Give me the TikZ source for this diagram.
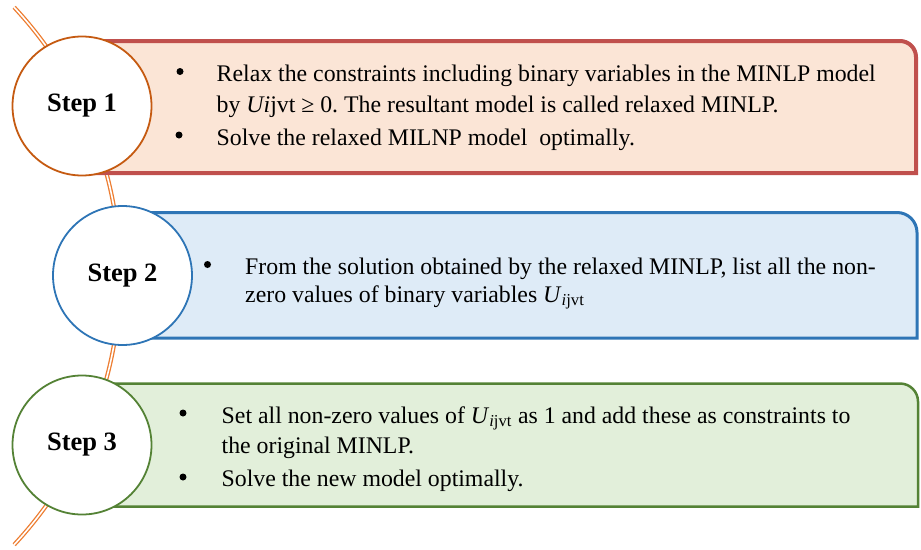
\documentclass[tikz,border=0pt]{standalone}
\usepackage{fontspec}
\setmainfont{Liberation Serif}
\usepackage{xcolor}
\usepackage{tikz}
\usetikzlibrary{positioning,calc}
\frenchspacing

\definecolor{arcorange}{HTML}{ED7D31}
\definecolor{redline}{HTML}{C0504D}
\definecolor{redfill}{HTML}{FBE5D6}
\definecolor{orangeline}{HTML}{C55A11}
\definecolor{blueline}{HTML}{2E75B6}
\definecolor{bluefill}{HTML}{DEEBF7}
\definecolor{greenline}{HTML}{548235}
\definecolor{greenfill}{HTML}{E2EFDA}

\begin{document}
\begin{tikzpicture}[x=1pt, y=-1pt,
    every node/.style={font=\fontsize{23.8}{28}\selectfont, inner sep=0pt},
    stepcircle/.style={circle, fill=white, line width=1.8pt, minimum size=139pt, inner sep=0pt,
        font=\fontsize{26.5}{30}\selectfont\bfseries},
    itemline/.style={anchor=base west},
    bulletmark/.style={circle, fill=black, minimum size=7pt, inner sep=0pt}]
            \useasboundingbox (0,0) rectangle (921,549);

            % Big arc behind the circles
            \draw[draw=arcorange, double=white, line width=1.3pt, double distance=1.6pt]
                (-274,276) ++(-43:394) arc[start angle=-43, end angle=43, radius=394];

            % Boxes (top right corner rounded)
            \filldraw[fill=redfill, draw=redline, line width=4pt]
                (82,173) -- (82,41) -- (900,41) arc[start angle=-90, end angle=0, radius=16] -- (916,173) -- cycle;
            \filldraw[fill=bluefill, draw=blueline, line width=3pt]
                (122,338) -- (122,212.5) -- (897,212.5) arc[start angle=-90, end angle=0, radius=20] -- (917,338) -- cycle;
            \filldraw[fill=greenfill, draw=greenline, line width=2.5pt]
                (82,506.5) -- (82,383.5) -- (900,383.5) arc[start angle=-90, end angle=0, radius=18] -- (918,506.5) -- cycle;

            % Step circles
            \node[stepcircle, draw=orangeline] (step1) at (82,106) {Step 1};
            \node[stepcircle, draw=blueline] (step2) at (122.5,275.5) {Step 2};
            \node[stepcircle, draw=greenline] (step3) at (82,445) {Step 3};

            % Step 1 text
            \node[bulletmark] (b1a) at (180,71.5) {};
            \node[itemline] (t1a) at (216.5,81.5) {Relax the constraints including binary variables in the MINLP model};
            \node[itemline] (t1b) at (216.5,112) {by \textit{Ui}jvt ≥ 0. The resultant model is called relaxed MINLP.};
            \node[bulletmark] (b1b) at (179,135) {};
            \node[itemline] (t1c) at (216.5,145) {Solve the relaxed MILNP model\ \ optimally.};

            % Step 2 text
            \node[bulletmark] (b2a) at (207.5,264.5) {};
            \node[itemline] (t2a) at (245,274) {From the solution obtained by the relaxed MINLP, list all the non-};
            \node[itemline] (t2b) at (245,302) {zero values of binary variables \textit{U}\textsubscript{\textit{i}jvt}};

            % Step 3 text
            \node[bulletmark] (b3a) at (183,413) {};
            \node[itemline] (t3a) at (221.5,423) {Set all non-zero values of \textit{U}\textsubscript{\textit{i}jvt} as 1 and add these as constraints to};
            \node[itemline] (t3b) at (221.5,453.5) {the original MINLP.};
            \node[bulletmark] (b3b) at (183,477) {};
            \node[itemline] (t3c) at (221.5,486) {Solve the new model optimally.};

        \end{tikzpicture}
\end{document}
